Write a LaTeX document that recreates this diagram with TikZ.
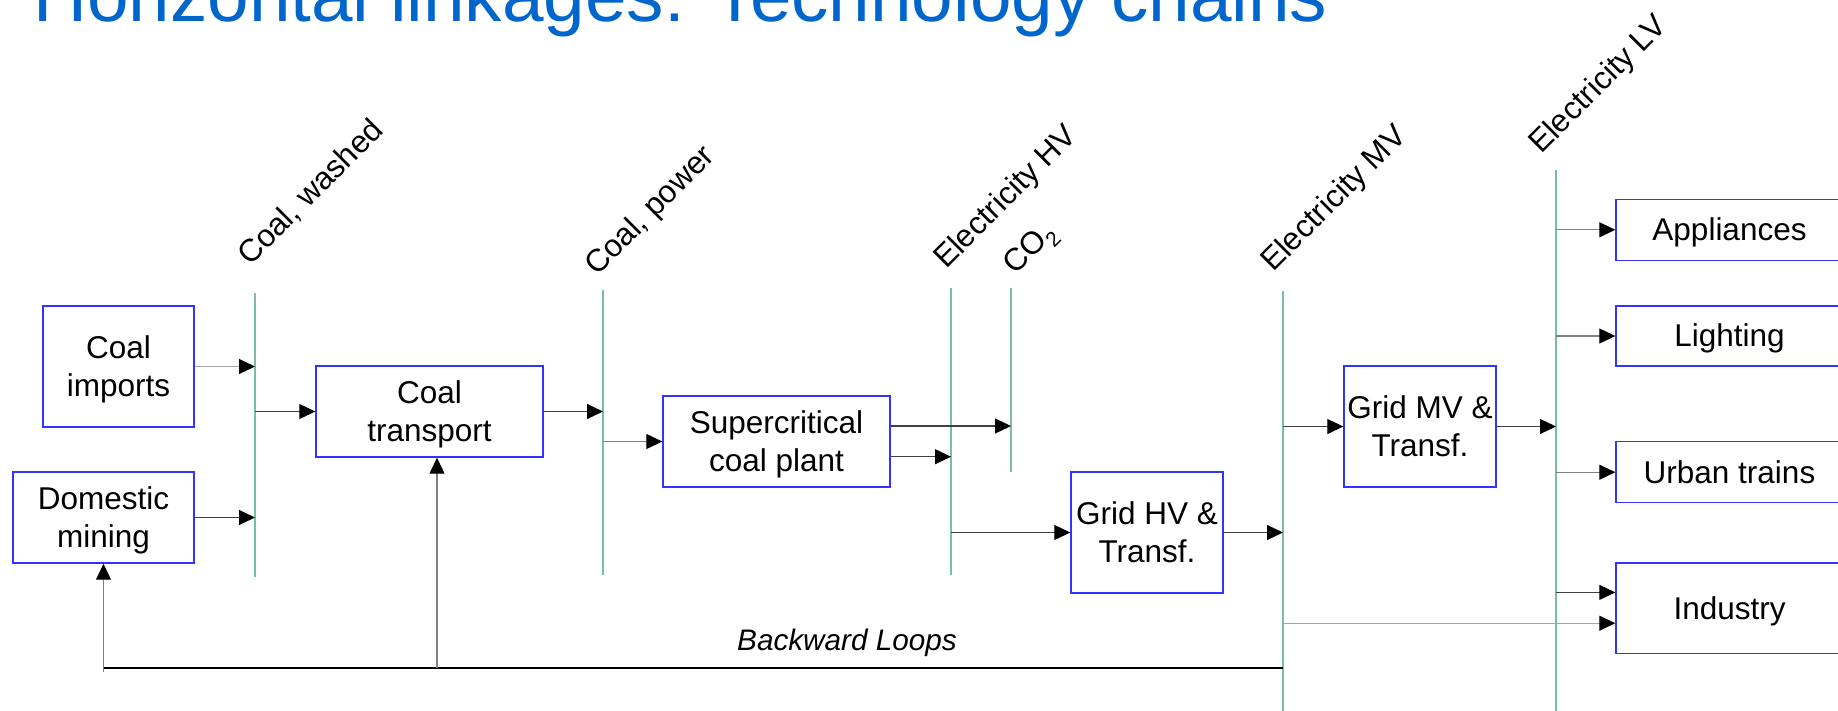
\documentclass[tikz,border=0pt]{standalone}
\usepackage{fontspec}
\setmainfont{Liberation Sans}
\usetikzlibrary{arrows.meta}

\definecolor{titleblue}{RGB}{0,102,204}
\definecolor{boxblue}{RGB}{51,51,255}
\definecolor{busgreen}{RGB}{122,190,160}
\definecolor{darkline}{RGB}{64,64,64}
\definecolor{midline}{RGB}{128,128,128}
\definecolor{lightline}{RGB}{165,165,165}

% strut giving every line the ascent and descent of the font
\newcommand\bxstrut{\rule[-0.212em]{0pt}{1.117em}}

\tikzset{
  x=1pt, y=-1pt,
  body/.style={font=\fontsize{31.5}{38.5}\selectfont},
  procbox/.style={draw=boxblue, line width=1.4pt, inner sep=0pt, align=center, body},
  bus/.style={draw=busgreen, line width=1.6pt},
  flow/.style={line width=1.1pt, -{Triangle[length=16pt,width=15pt,color=black,fill=black]}},
  loopline/.style={draw=black, line width=2pt},
  buslabel/.style={body, rotate=45, anchor=base west, inner sep=0pt},
}

\begin{document}
\begin{tikzpicture}
\useasboundingbox (0,0) rectangle (1838,710);
\clip (0,0) rectangle (1838,710);

% title
\node[anchor=base west, inner sep=0pt, text=titleblue,
      font=\fontsize{74.7}{80}\selectfont] (title) at (33,21)
      {Horizontal linkages: Technology chains};

% commodity buses
\coordinate (b1t) at (255,293);  \coordinate (b1b) at (255,577);
\coordinate (b2t) at (603,290);  \coordinate (b2b) at (603,575);
\coordinate (hvt) at (951,288);  \coordinate (hvb) at (951,575);
\coordinate (co2t) at (1011,288); \coordinate (co2b) at (1011,472);
\coordinate (mvt) at (1283,291); \coordinate (mvb) at (1283,712);
\coordinate (lvt) at (1556,170); \coordinate (lvb) at (1556,712);

\foreach \a/\b in {b1t/b1b, b2t/b2b, hvt/hvb, co2t/co2b, mvt/mvb, lvt/lvb}
  \draw[bus] (\a) -- (\b);

% bus labels
\node[buslabel] (lcw) at (250,267) {Coal, washed};
\node[buslabel] (lcp) at (597,277) {Coal, power};
\node[buslabel] (lhv) at (946,270) {Electricity HV};
\node[buslabel] (lco) at (1015,276) {CO\raisebox{-0.25em}{\fontsize{21}{21}\selectfont 2}};
\node[buslabel] (lmv) at (1273,273) {Electricity MV};
\node[buslabel] (llv) at (1541,155) {Electricity LV};

% processes
\node[procbox, minimum width=151pt, minimum height=121pt] (cimp) at (118.5,366.5)
  {\bxstrut Coal\\\bxstrut imports};
\node[procbox, minimum width=181pt, minimum height=91pt] (dmin) at (103.5,517.5)
  {\bxstrut Domestic\\\bxstrut mining};
\node[procbox, minimum width=227pt, minimum height=91pt] (ctr) at (429.5,411.5)
  {\bxstrut Coal\\\bxstrut transport};
\node[procbox, minimum width=227pt, minimum height=91pt] (scp) at (776.5,441.5)
  {\bxstrut Supercritical\\\bxstrut coal plant};
\node[procbox, minimum width=152pt, minimum height=121pt] (ghv) at (1147,532.5)
  {\bxstrut Grid HV \&\\\bxstrut Transf.};
\node[procbox, minimum width=152pt, minimum height=121pt] (gmv) at (1420,426.5)
  {\bxstrut Grid MV \&\\\bxstrut Transf.};
\node[procbox, minimum width=227pt, minimum height=61pt] (app) at (1729.5,229.8)
  {\bxstrut Appliances};
\node[procbox, minimum width=227pt, minimum height=60pt] (lig) at (1729.5,336)
  {\bxstrut Lighting};
\node[procbox, minimum width=227pt, minimum height=61pt] (urb) at (1729.5,472.2)
  {\bxstrut Urban trains};
\node[procbox, minimum width=227pt, minimum height=90.5pt] (ind) at (1729.5,608.3)
  {\bxstrut Industry};

% flows between processes and buses
\draw[flow, lightline] (cimp.east) -- (cimp.east -| b1t);
\draw[flow, darkline] (dmin.east) -- (dmin.east -| b1t);
\draw[flow, darkline] (ctr.west -| b1t) -- (ctr.west);
\draw[flow, darkline] (ctr.east) -- (ctr.east -| b2t);
\draw[flow, midline] (scp.west -| b2t) -- (scp.west);

\coordinate (sco) at ([yshift=15.5pt]scp.east);
\coordinate (shv) at ([yshift=-15.2pt]scp.east);
\draw[flow, darkline] (sco) -- (sco -| co2t);
\draw[flow, darkline] (shv) -- (shv -| hvt);

\draw[flow, darkline] (ghv.west -| hvt) -- (ghv.west);
\draw[flow, darkline] (ghv.east) -- (ghv.east -| mvt);
\draw[flow, darkline] (gmv.west -| mvt) -- (gmv.west);
\draw[flow, darkline] (gmv.east) -- (gmv.east -| lvt);

\draw[flow, midline] (app.west -| lvt) -- (app.west);
\draw[flow, midline] (lig.west -| lvt) -- (lig.west);
\draw[flow, midline] (urb.west -| lvt) -- (urb.west);

\coordinate (ilv) at ([yshift=15.9pt]ind.west);
\coordinate (imv) at ([yshift=-14.9pt]ind.west);
\draw[flow, darkline] (ilv -| lvt) -- (ilv);
\draw[flow, lightline] (imv -| mvt) -- (imv);

% backward loops
\coordinate (lpl) at (dmin.south |- 0,668);
\coordinate (lpc) at (437,668);
\draw[loopline] (lpl) -- (lpl -| mvt);
\draw[flow, midline] ([yshift=-4pt]lpl) -- (dmin.south);
\draw[flow, midline] (lpc) -- (lpc |- ctr.south);
\node[font=\fontsize{29.7}{30}\selectfont\itshape, anchor=base, inner sep=0pt]
  (bl) at (847,650) {Backward Loops};
\end{tikzpicture}
\end{document}
